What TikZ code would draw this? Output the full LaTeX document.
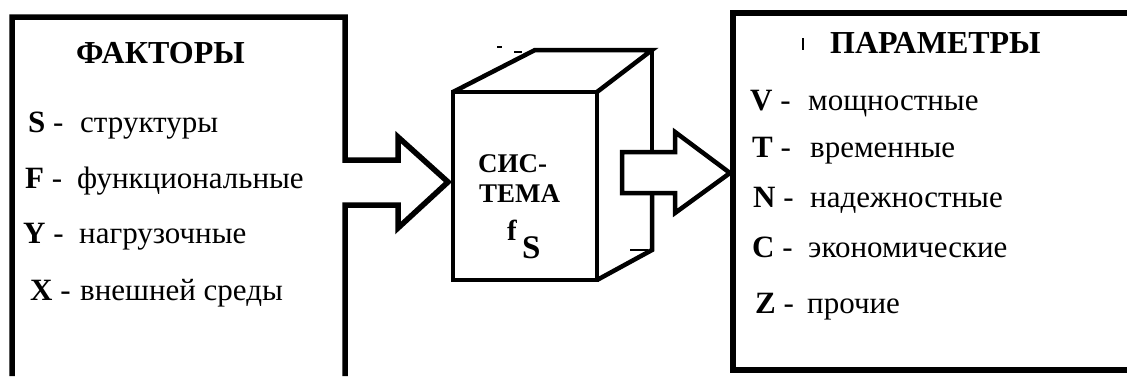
\documentclass[tikz,border=0pt]{standalone}
\usepackage{fontspec}
\newfontfamily\libserif{Liberation Serif}
\begin{document}
\begin{tikzpicture}[x=1pt,y=1pt,
  frame/.style={line width=5.5pt,line join=miter,line cap=butt},
  edge/.style={line width=4.5pt,line join=miter,line cap=butt},
  head/.style={font=\fontsize{32}{36}\selectfont\libserif\bfseries,anchor=base west,inner sep=0pt},
  key/.style={font=\fontsize{31}{34}\selectfont\libserif,anchor=base west,inner sep=0pt},
  word/.style={font=\fontsize{31}{34}\selectfont\libserif,anchor=base west,inner sep=0pt},
  cubetext/.style={font=\fontsize{27}{32}\selectfont\libserif\bfseries,anchor=base west,inner sep=0pt}]
\useasboundingbox (0,0) rectangle (1127,376);

% headings
\node[head] (factors) at (76,313) {ФАКТОРЫ};
\node[head] (params) at (830,323) {ПАРАМЕТРЫ};

% cube caption
\node[cubetext] (sys1) at (478,204) {СИС-};
\node[cubetext] (sys2) at (479,174) {ТЕМА};
\node[font=\fontsize{29}{32}\selectfont\libserif\bfseries,anchor=base west,inner sep=0pt] (f) at (507,136) {f};
\node[font=\fontsize{33}{36}\selectfont\libserif\bfseries,anchor=base west,inner sep=0pt] (fS) at (522,118) {S};

% factor list
\node[key] (kS) at (28,244) {\textbf{S} -};
\node[word] (wS) at (80,244) {структуры};
\node[key] (kF) at (25,188) {\textbf{F} -};
\node[word] (wF) at (77,188) {функциональные};
\node[key] (kY) at (23,133) {\textbf{Y} -};
\node[word] (wY) at (79,133) {нагрузочные};
\node[key] (kX) at (30,76) {\textbf{X} -};
\node[word] (wX) at (80,76) {внешней среды};

% parameter list
\node[key] (kV) at (750,266) {\textbf{V} -};
\node[word] (wV) at (808,266) {мощностные};
\node[key] (kT) at (752,219) {\textbf{T} -};
\node[word] (wT) at (810,219) {временные};
\node[key] (kN) at (753,169) {\textbf{N} -};
\node[word] (wN) at (810,169) {надежностные};
\node[key] (kC) at (752,119) {\textbf{C} -};
\node[word] (wC) at (808,119) {экономические};
\node[key] (kZ) at (755,63) {\textbf{Z} -};
\node[word] (wZ) at (807,63) {прочие};

% factors frame with the inlet arrow cut into its right side
\draw[frame] (345,0) -- (345,171) -- (398,171) -- (398,148) -- (448,194)
  -- (398,239) -- (398,216) -- (345,216) -- (345,359) -- (12,359) -- (12,0);
\coordinate (inTip) at (448,194);

% parameters frame, open at the right border
\draw[frame] (1127,363) -- (733,363) -- (733,6) -- (1127,6);
\coordinate (outTarget) at (733,203);

% the system cube
\draw[edge,line cap=rect] (453,284) rectangle (597,96);
\draw[edge] (453,284) -- (535,326) -- (652,326) -- (597,284);
\draw[edge] (652,326) -- (652,224);
\draw[edge] (652,183) -- (652,126) -- (597,96);
\draw[line width=2pt] (630,126) -- (648,126);
\draw[line width=1.5pt] (497,329) -- (502,329);
\draw[line width=1.5pt] (514,324) -- (522,324);
\draw[line width=2pt] (803,338) -- (803,326);

% outlet arrow from the cube to the parameters
\draw[edge,fill=white] (675,224) -- (622,224) -- (622,183) -- (675,183)
  -- (675,163) -- (730,203) -- (675,244) -- cycle;
\end{tikzpicture}
\end{document}
